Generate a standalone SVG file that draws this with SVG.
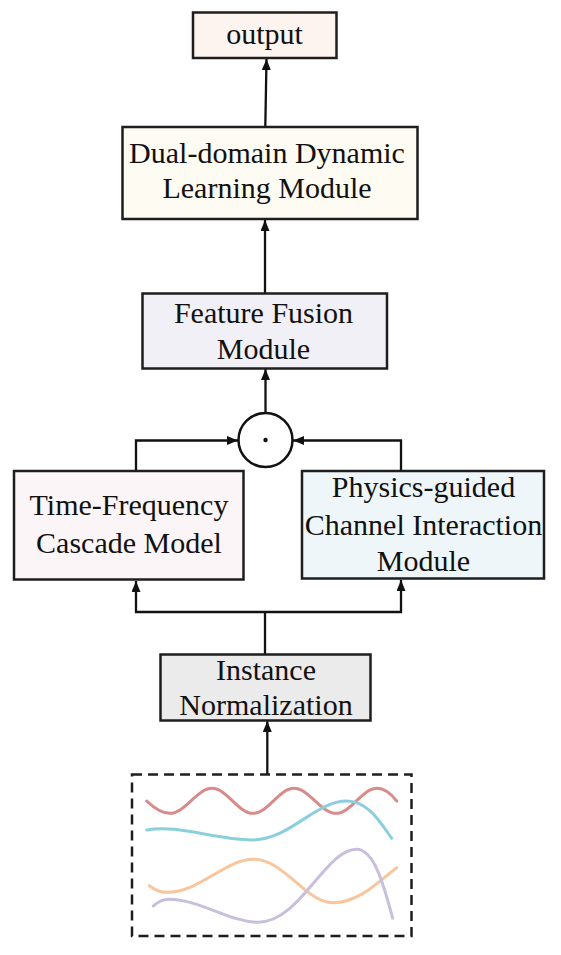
<svg xmlns="http://www.w3.org/2000/svg" width="561" height="955" viewBox="0 0 561 955">
<defs>
<style>
.box{stroke:#1e1e1e;stroke-width:2.5}
.t{font-family:"Liberation Serif","Times New Roman",serif;font-size:30px;fill:#111;text-anchor:middle}
.c{fill:none;stroke:#111;stroke-width:2.3}
.w{fill:none;stroke-width:3;stroke-linecap:round}
</style>
<marker id="ah" markerUnits="userSpaceOnUse" markerWidth="12" markerHeight="10" refX="11" refY="4.5" orient="auto">
<path d="M0,0 L11,4.5 L0,9 z" fill="#111"/>
</marker>
</defs>
<rect width="561" height="955" fill="#fff"/>
<g id="connectors">
<line class="c" x1="265.3" y1="127" x2="266.5" y2="59" marker-end="url(#ah)"/>
<line class="c" x1="265" y1="293" x2="265" y2="220" marker-end="url(#ah)"/>
<line class="c" x1="265.5" y1="413" x2="265.5" y2="369" marker-end="url(#ah)"/>
<path class="c" d="M136,471 V440.5 H238" marker-end="url(#ah)"/>
<path class="c" d="M401,471 V440.5 H293" marker-end="url(#ah)"/>
<line class="c" x1="265" y1="654" x2="265" y2="612"/>
<path class="c" d="M265,612 H136 V581" marker-end="url(#ah)"/>
<path class="c" d="M265,612 H401 V580" marker-end="url(#ah)"/>
<line class="c" x1="267.3" y1="774" x2="267.3" y2="721" marker-end="url(#ah)"/>
</g>
<g id="output">
<rect class="box" x="193" y="12.5" width="143.5" height="45.5" fill="#fdf3ef"/>
<text class="t" x="264.5" y="44">output</text>
</g>
<g id="ddl">
<rect class="box" x="122.5" y="127" width="295" height="92" fill="#fefbf3"/>
<text class="t" x="267" y="162.5">Dual-domain Dynamic</text>
<text class="t" x="267" y="198">Learning Module</text>
</g>
<g id="ffm">
<rect class="box" x="142.5" y="293.5" width="244.5" height="75" fill="#f1f0f6"/>
<text class="t" x="263.5" y="322.5">Feature Fusion</text>
<text class="t" x="263.5" y="359">Module</text>
</g>
<g id="mul">
<circle cx="265.5" cy="440" r="27" fill="#fff" stroke="#111" stroke-width="2.5"/>
<circle cx="265.5" cy="440" r="2.2" fill="#111"/>
</g>
<g id="tfc">
<rect class="box" x="14" y="471" width="229.5" height="108.5" fill="#fcf5f7"/>
<text class="t" x="129" y="515">Time-Frequency</text>
<text class="t" x="129" y="552.5">Cascade Model</text>
</g>
<g id="pci">
<rect class="box" x="302" y="471" width="242" height="107.5" fill="#eef6f9"/>
<text class="t" x="423.5" y="497">Physics-guided</text>
<text class="t" x="423.5" y="534.5">Channel Interaction</text>
<text class="t" x="423.5" y="570.5">Module</text>
</g>
<g id="norm">
<rect class="box" x="160.5" y="654.5" width="210" height="66" fill="#ebebeb"/>
<text class="t" x="266" y="679.5">Instance</text>
<text class="t" x="266" y="715">Normalization</text>
</g>
<g id="input">
<rect x="132" y="774.5" width="279.5" height="161.5" fill="none" stroke="#1e1e1e" stroke-width="2.5" stroke-dasharray="10,6"/>
<path class="w" stroke="#d98a8a" d="M146.7,801 C154,808 161,813.3 170,813.3 C185,813.3 197,788.3 212,788.3 C227,788.3 238,813.3 253,813.3 C268,813.3 279,788.3 294,788.3 C309,788.3 321,813.3 336,813.3 C351,813.3 362,788.3 377,788.3 C386,788.3 392,795 396.7,801"/>
<path class="w" stroke="#8ccfdc" d="M146.7,830 C178,824 215,840 251.7,840 C290,840 315,801 346.7,801 C368,801 380,822 391.7,838.3"/>
<path class="w" stroke="#f8c59c" d="M149.3,885.7 C155,890 160,892.3 166.7,892.3 C200,892.3 225,859.3 253.3,859.3 C285,859.3 305,902.7 333.3,902.7 C360,902.7 380,880 396.7,867.7"/>
<path class="w" stroke="#c8bfdd" d="M153.3,906 C158,902 163,899.3 168.3,899.3 C200,899.3 230,922.3 258.3,922.3 C300,922.3 325,849.3 356.7,849.3 C375,849.3 385,890 392.7,918.3"/>
</g>
</svg>
